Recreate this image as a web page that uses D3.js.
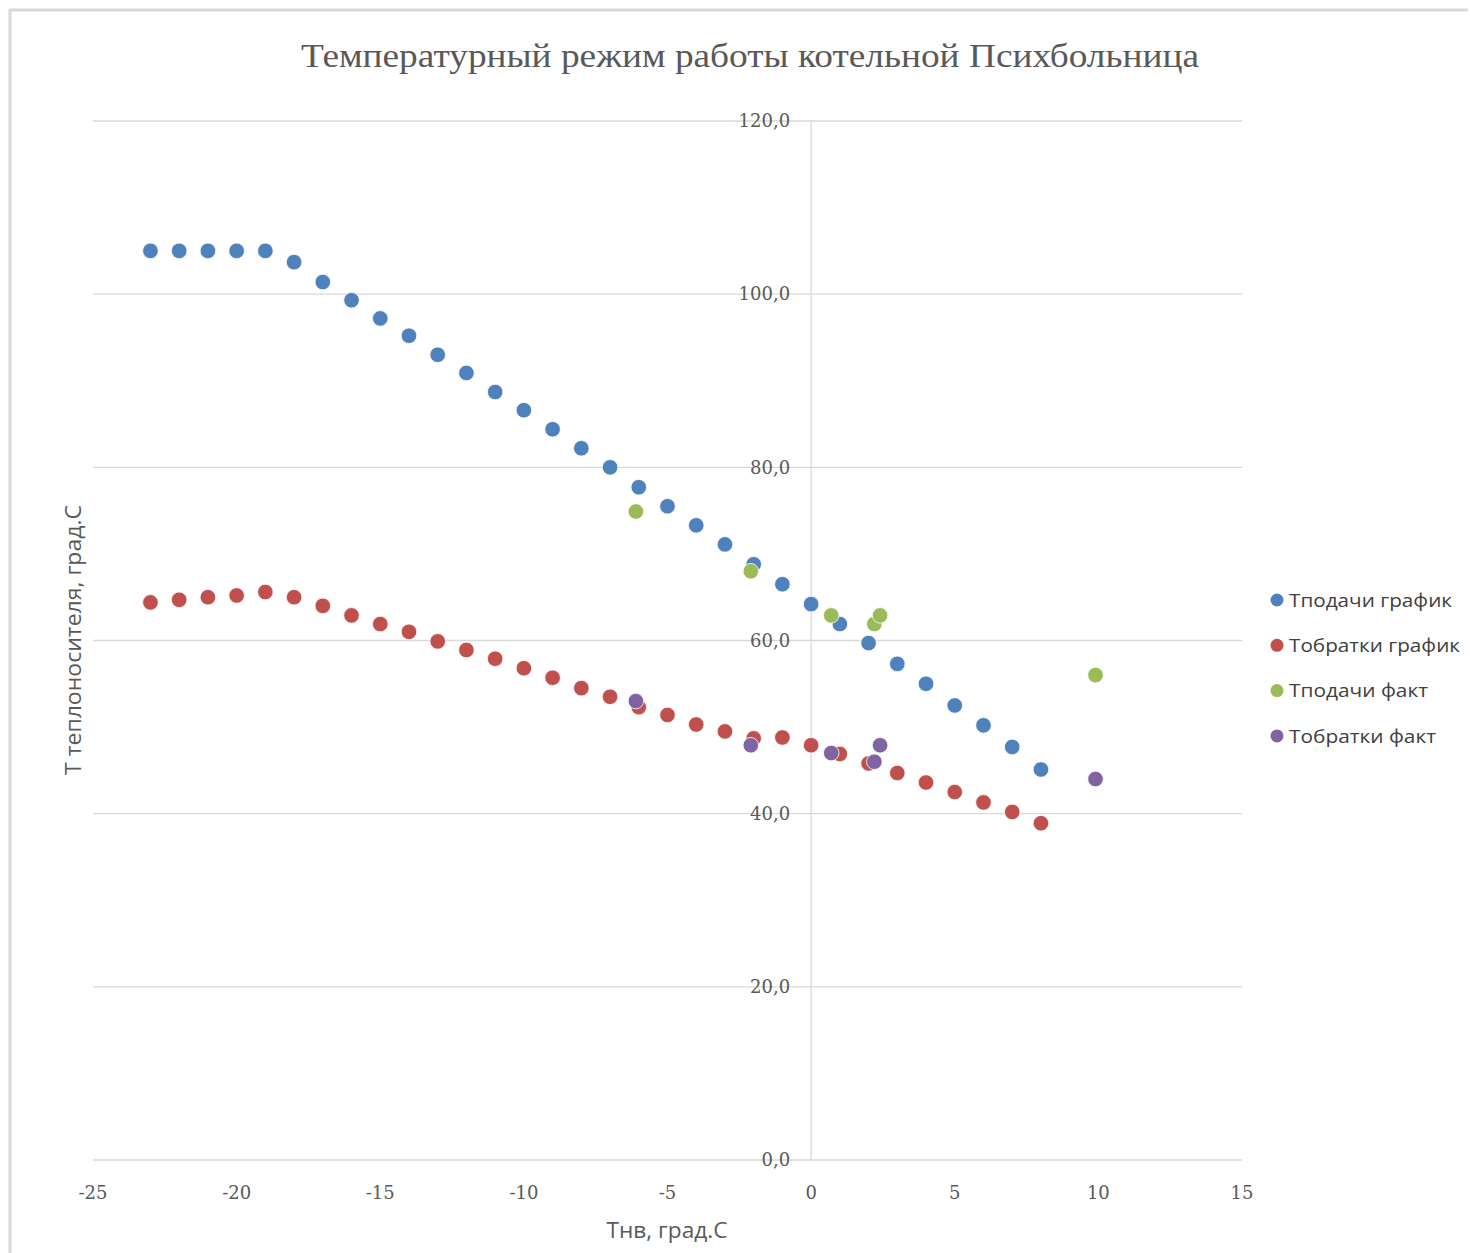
<!DOCTYPE html>
<html><head><meta charset="utf-8">
<script src="https://cdn.jsdelivr.net/npm/d3@7"></script>
<style>body{margin:0;background:#fff}svg{display:block}</style>
</head><body>
<script>
const title = "Температурный режим работы котельной Психбольница";
const xTitle = "Тнв, град.С";
const yTitle = "Т теплоносителя, град.С";
const seriesNames = ["Тподачи график", "Тобратки график", "Тподачи факт", "Тобратки факт"];
const seriesColors = ["#4F81BD", "#C0504D", "#9BBB59", "#8064A2"];
const xTicks = [-25, -20, -15, -10, -5, 0, 5, 10, 15];
const yTicks = [0, 20, 40, 60, 80, 100, 120];

const tnvGraph = [-23,-22,-21,-20,-19,-18,-17,-16,-15,-14,-13,-12,-11,-10,-9,-8,-7,-6,-5,-4,-3,-2,-1,0,1,2,3,4,5,6,7,8];
const supplyGraph = [105.0,105.0,105.0,105.0,105.0,103.7,101.4,99.3,97.2,95.2,93.0,90.9,88.7,86.6,84.4,82.2,80.0,77.7,75.5,73.3,71.1,68.8,66.5,64.2,61.9,59.7,57.3,55.0,52.5,50.2,47.7,45.1];
const returnGraph = [64.4,64.7,65.0,65.2,65.6,65.0,64.0,62.9,61.9,61.0,59.9,58.9,57.9,56.8,55.7,54.5,53.5,52.3,51.4,50.3,49.5,48.7,48.8,47.9,46.9,45.8,44.7,43.6,42.5,41.3,40.2,38.9];
const tnvFact = [-6.1, -2.1, 0.7, 2.2, 2.4, 9.9];
const supplyFact = [74.9, 68.0, 62.9, 61.9, 62.9, 56.0];
const returnFact = [53.0, 47.9, 47.0, 46.0, 47.9, 44.0];

const W = 1470, H = 1253;
const svg = d3.select("body").append("svg").attr("width", W).attr("height", H);

// outer frame
svg.append("line").attr("x1", 9).attr("x2", 1468).attr("y1", 10).attr("y2", 10).attr("stroke", "#d9d9d9").attr("stroke-width", 3);
svg.append("line").attr("x1", 10).attr("x2", 10).attr("y1", 9).attr("y2", H).attr("stroke", "#d9d9d9").attr("stroke-width", 3);

const x = d3.scaleLinear().domain([-25, 15]).range([93, 1242]);
const y = d3.scaleLinear().domain([0, 120]).range([1160, 121]);

// gridlines
svg.append("g").selectAll("line").data(yTicks).join("line")
  .attr("x1", x(-25)).attr("x2", x(15))
  .attr("y1", d => y(d)).attr("y2", d => y(d))
  .attr("stroke", "#d9d9d9").attr("stroke-width", 1.3);

// vertical axis line at x=0
svg.append("line").attr("x1", x(0)).attr("x2", x(0)).attr("y1", y(120)).attr("y2", y(0))
  .attr("stroke", "#d9d9d9").attr("stroke-width", 1.3);

const fmt = d => d.toFixed(1).replace(".", ",");
// y tick labels
svg.append("g").selectAll("text").data(yTicks).join("text")
  .attr("x", x(0) - 21).attr("y", d => y(d)).attr("dy", "0.35em")
  .attr("text-anchor", "end").attr("font-family", "'DejaVu Serif', serif").attr("font-size", 18)
  .attr("fill", "#595959").text(fmt);

// x tick labels
svg.append("g").selectAll("text").data(xTicks).join("text")
  .attr("x", d => x(d)).attr("y", 1193).attr("dy", "0.35em")
  .attr("text-anchor", "middle").attr("font-family", "'DejaVu Serif', serif").attr("font-size", 18)
  .attr("fill", "#595959").text(d => d);

// title
svg.append("text").attr("x", 750).attr("y", 55).attr("dy", "0.35em").attr("text-anchor", "middle")
  .attr("font-family", "'Liberation Serif', serif").attr("font-size", 33).attr("fill", "#595959")
  .attr("textLength", 898).attr("lengthAdjust", "spacingAndGlyphs").text(title);

// axis titles
svg.append("text").attr("x", 667).attr("y", 1231).attr("dy", "0.35em").attr("text-anchor", "middle")
  .attr("font-family", "'Open Sans', sans-serif").attr("font-size", 21).attr("fill", "#595959")
  .attr("textLength", 121).attr("lengthAdjust", "spacingAndGlyphs").text(xTitle);
svg.append("text").attr("transform", "translate(74,640) rotate(-90)").attr("dy", "0.35em").attr("text-anchor", "middle")
  .attr("font-family", "'Open Sans', sans-serif").attr("font-size", 21).attr("fill", "#595959")
  .attr("textLength", 270).attr("lengthAdjust", "spacingAndGlyphs").text(yTitle);

const series = [
  {xs: tnvGraph, ys: supplyGraph},
  {xs: tnvGraph, ys: returnGraph},
  {xs: tnvFact, ys: supplyFact},
  {xs: tnvFact, ys: returnFact}
];
series.forEach((s, i) => {
  svg.append("g").selectAll("circle").data(s.xs.map((v, j) => [v, s.ys[j]])).join("circle")
    .attr("cx", d => x(d[0])).attr("cy", d => y(d[1])).attr("r", 7.8)
    .attr("fill", seriesColors[i]).attr("stroke", "#fff").attr("stroke-width", 0.8);
});

// legend
const leg = svg.append("g");
seriesNames.forEach((n, i) => {
  const ly = 600 + i * 45.3;
  leg.append("circle").attr("cx", 1277).attr("cy", ly).attr("r", 6.5).attr("fill", seriesColors[i]);
  leg.append("text").attr("x", 1289).attr("y", ly).attr("dy", "0.35em")
    .attr("font-family", "'Open Sans', sans-serif").attr("font-size", 19).attr("fill", "#404040")
    .attr("textLength", i === 0 ? 163 : i === 1 ? 171 : i === 2 ? 139 : 147).attr("lengthAdjust", "spacingAndGlyphs")
    .text(n);
});
</script>
</body></html>
